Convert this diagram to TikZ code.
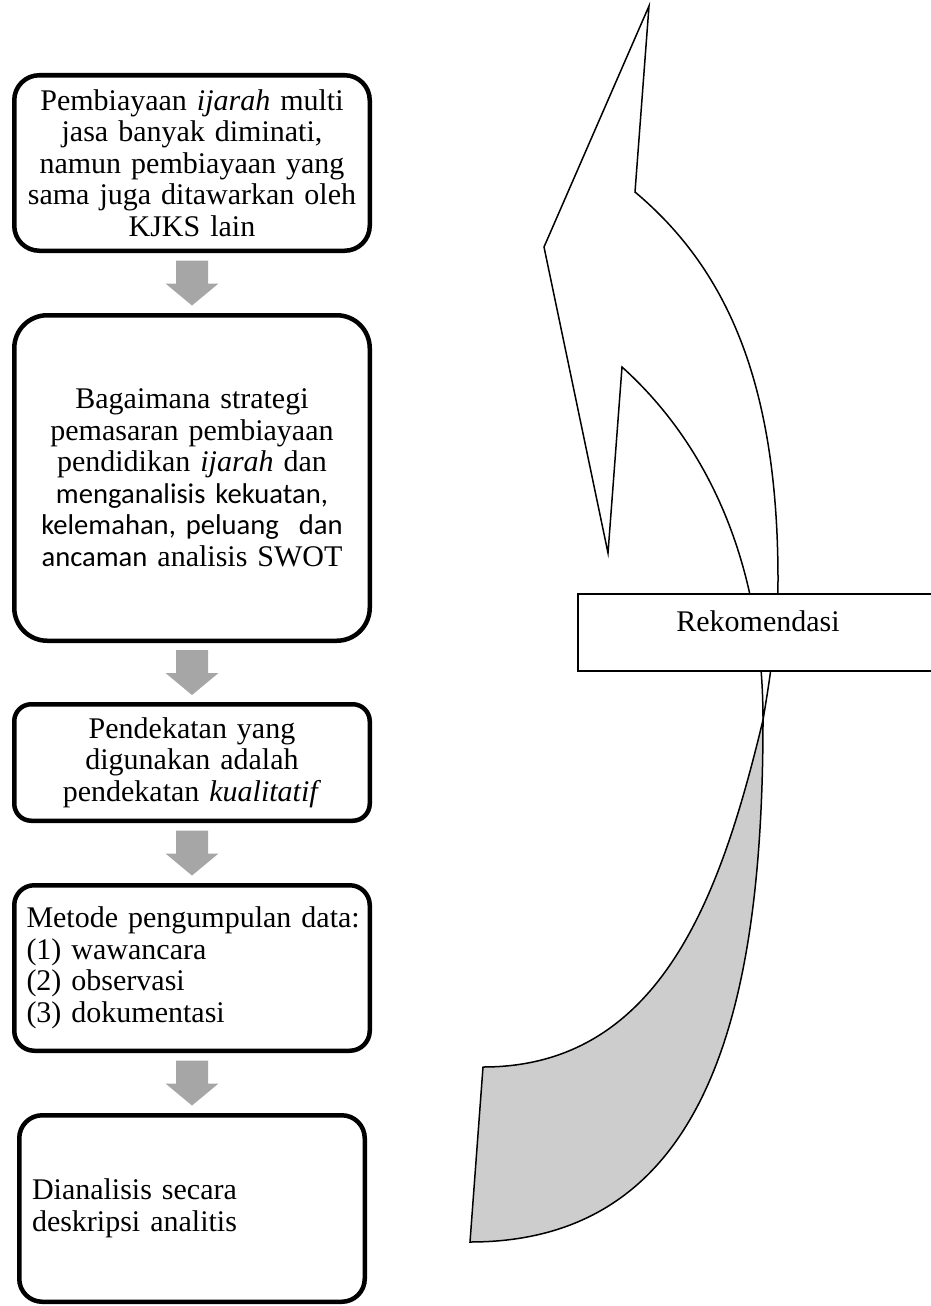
\documentclass[tikz,border=0pt]{standalone}
\usepackage{fontspec}
\setmainfont{Liberation Serif}
\newfontfamily\calibfam{Carlito}
\newcommand{\calib}{\calibfam\fontsize{28.6}{31.5}\selectfont}
\usetikzlibrary{calc}
\definecolor{arrowgrey}{HTML}{A6A6A6}
\definecolor{backgrey}{HTML}{CDCDCD}
\begin{document}
\begin{tikzpicture}[x=1pt,y=-1pt,
  flowbox/.style={draw=black, line width=4.5pt, fill=white, align=center,
    text width=331pt, inner xsep=12pt, inner ysep=0pt,
    font=\fontsize{30}{31.5}\selectfont},
  leftbox/.style={flowbox, align=left},
  shapeline/.style={draw=black, line width=1.5pt, line join=miter},
  rekbox/.style={draw=black, line width=1.5pt, fill=white, inner sep=0pt},
  rektext/.style={font=\fontsize{30}{31.5}\selectfont, inner sep=0pt},
  downarr/.pic={\fill[arrowgrey] (-16,-22.5) -- (16,-22.5) -- (16,0.5) -- (26.5,0.5) -- (0,22.5) -- (-26.5,0.5) -- (-16,0.5) -- cycle;}
]
\useasboundingbox (0,0) rectangle (931,1306);
\clip (0,0) rectangle (931,1306);

% left column boxes
\node[flowbox, rounded corners=25pt, minimum width=355.5pt, minimum height=175.5pt] (b1) at (192,163)
  {Pembiayaan \textit{ijarah} multi\\ jasa banyak diminati,\\ namun pembiayaan yang\\ sama juga ditawarkan oleh\\ KJKS lain};
\node[flowbox, rounded corners=33pt, minimum width=355.5pt, minimum height=325.5pt] (b2) at (192,478)
  {Bagaimana strategi\\ pemasaran pembiayaan\\ pendidikan \textit{ijarah} dan\\ {\calib menganalisis kekuatan,}\\ {\calib kelemahan, peluang\ \ dan}\\ {\calib ancaman} analisis SWOT};
\node[flowbox, rounded corners=17pt, minimum width=355.5pt, minimum height=116.5pt] (b3) at (192,762.5)
  {Pendekatan yang\\ digunakan adalah\\ pendekatan \textit{kualitatif}};
\node[leftbox, rounded corners=20pt, minimum width=355.5pt, minimum height=165.5pt] (b4) at (192,968)
  {\mbox{Metode pengumpulan data:}\\ (1) wawancara\\ (2) observasi\\ (3) dokumentasi};
\node[leftbox, text width=320pt, inner xsep=12.75pt, rounded corners=23pt, minimum width=345.5pt, minimum height=186.5pt] (b5) at (192,1208.5)
  {Dianalisis secara\\ deskripsi analitis};

% block arrows between boxes
\pic at ($(b1.south)!0.5!(b2.north)$) {downarr};
\pic at ($(b2.south)!0.5!(b3.north)$) {downarr};
\pic at ($(b3.south)!0.5!(b4.north)$) {downarr};
\pic at ($(b4.south)!0.5!(b5.north)$) {downarr};

% curved arrow: key points
\coordinate (X) at (763,720);
\coordinate (G) at (483,1067);
\coordinate (E) at (470,1242);
\coordinate (N1) at (635,192);
\coordinate (N2) at (622,367);
\coordinate (R) at (778,580);

% back face (grey)
\filldraw[shapeline, fill=backgrey]
  (X) .. controls (722,890) and (663,1067) .. (G)
  -- (E) .. controls (712,1242) and (763,1000) .. (X) -- cycle;

% front face with head
\filldraw[shapeline, fill=white]
  (N2) -- (608,553) -- (544,247) -- (649,6) -- (N1)
  .. controls (725,267.6) and (778,380) .. (R)
  .. controls (778,630) and (768,690) .. (X)
  .. controls (763,570) and (712,448) .. (N2) -- cycle;

% Rekomendasi box
\node[rekbox, anchor=north west, minimum width=365pt, minimum height=77pt] (rek) at (577,593) {};
\node[rektext, anchor=base] (rekt) at (758,631) {Rekomendasi};
\end{tikzpicture}
\end{document}
